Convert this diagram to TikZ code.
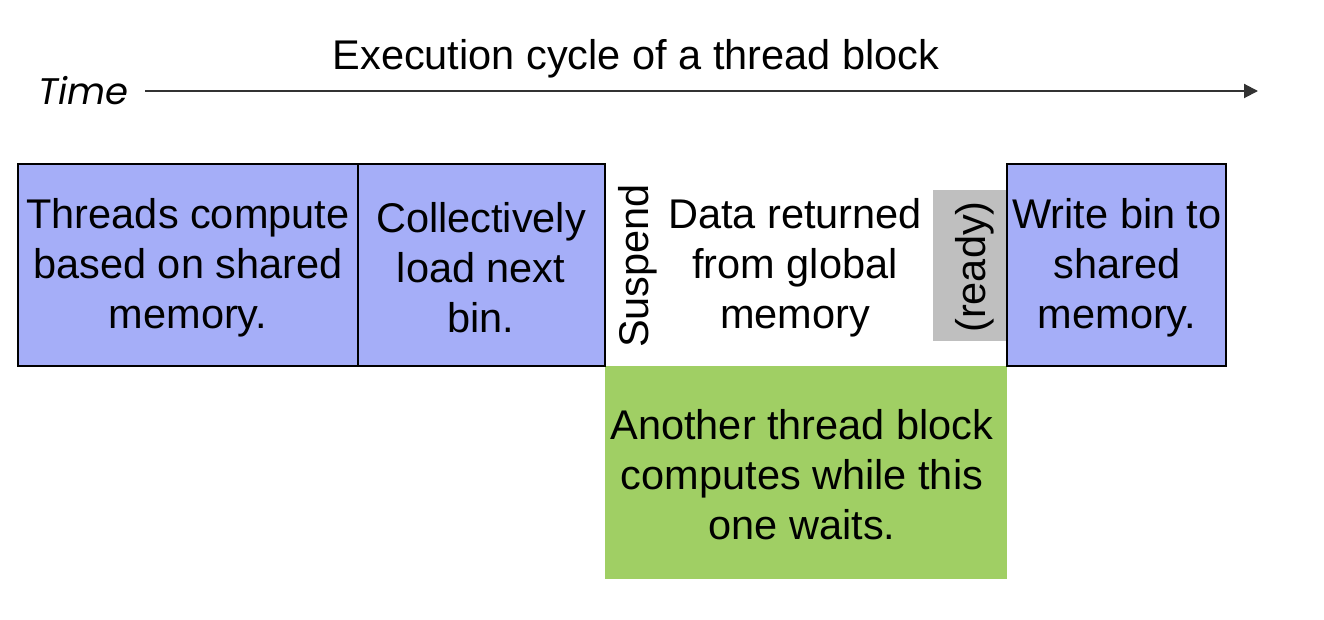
\documentclass[tikz,border=0pt]{standalone}
\usepackage{fontspec}
\setmainfont{Liberation Sans}
\newfontfamily\geofont{Poppins}
\usetikzlibrary{arrows.meta}
\definecolor{boxblue}{HTML}{A5AEF8}
\definecolor{boxgreen}{HTML}{A0CF64}
\definecolor{boxgray}{HTML}{BFBFBF}
\definecolor{arrowgray}{HTML}{333333}
\tikzset{
  bigtext/.style={font=\fontsize{41.5}{50}\selectfont, align=center, inner sep=0pt},
  stagebox/.style={draw=black, line width=1.2pt, fill=boxblue},
}
\begin{document}
\begin{tikzpicture}[x=1pt,y=-1pt]
\useasboundingbox (0,0) rectangle (1324,620);
% blocks
\fill[boxgreen] (605,366) rectangle (1007,579);
\fill[boxgray] (933,190) rectangle (1007,341);
\draw[stagebox] (18,164) rectangle (358,366);
\draw[stagebox] (358,164) rectangle (605,366);
\draw[stagebox] (1007,164) rectangle (1226,366);
% texts
\node[bigtext] (t1) at (188,268) {Threads compute\\based on shared\\memory.};
\node[bigtext] (t2) at (481,268) {Collectively\\load next\\bin.};
\node[bigtext, rotate=90] (susp) at (638,266) {Suspend};
\node[bigtext] (t3) at (795,268) {Data returned\\from global\\memory};
\node[bigtext, rotate=90] (ready) at (975,267) {(ready)};
\node[bigtext] (t4) at (1117,268) {Write bin to\\shared\\memory.};
\node[bigtext] (t5) at (802,475) {Another thread block\\computes while this\\one waits.};
% title and time axis
\node[font=\fontsize{41.5}{48}\selectfont, inner sep=0pt, anchor=base] (title) at (636,70) {Execution cycle of a thread block};
\node[font=\geofont\itshape\fontsize{37}{44}\selectfont, inner sep=0pt, anchor=west] (time) at (38,91) {Time};
\coordinate (arrowstart) at (145,91);
\coordinate (arrowend) at (1258,91);
\draw[arrowgray, line width=2pt, -{Triangle[length=14pt,width=14pt]}] (arrowstart) -- (arrowend);
\end{tikzpicture}
\end{document}
